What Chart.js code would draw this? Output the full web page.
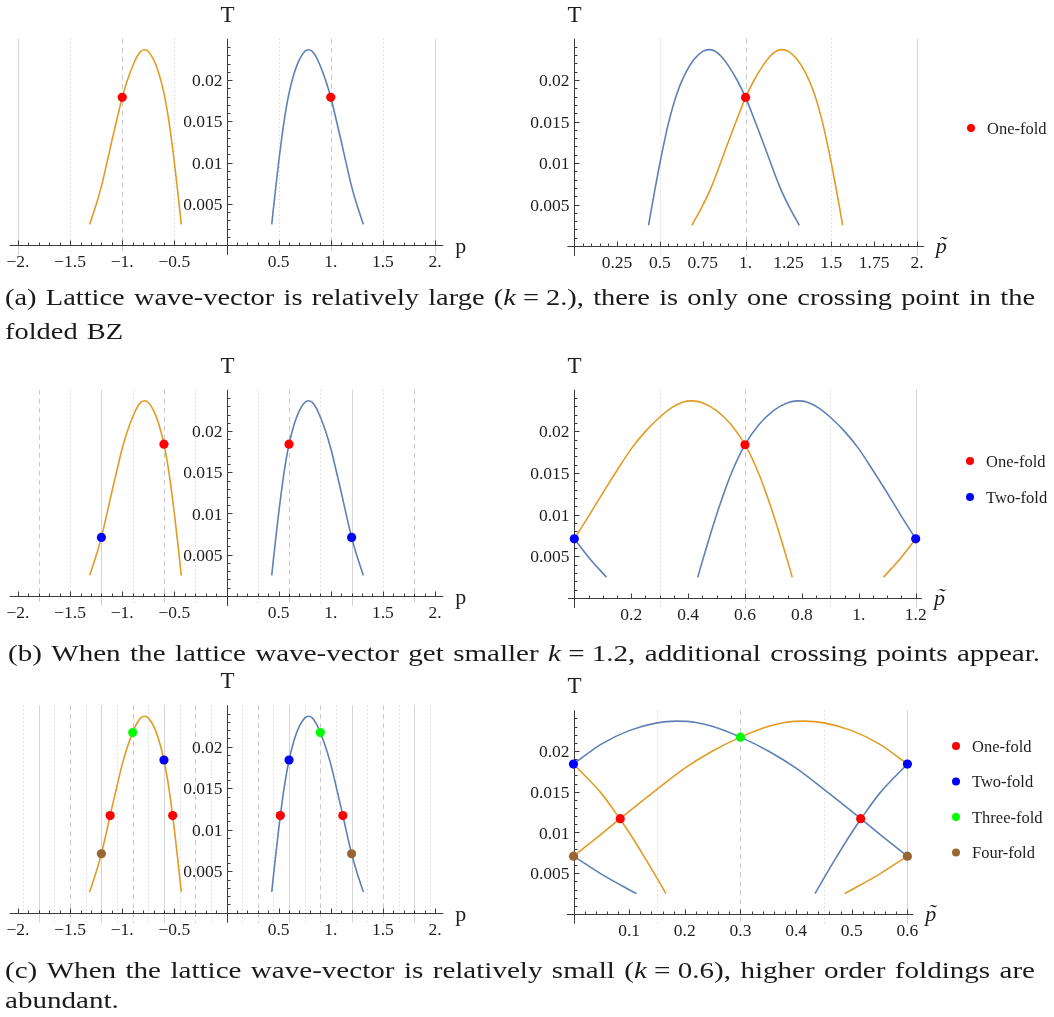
<!DOCTYPE html>
<html>
<head>
<meta charset="utf-8">
<script src="https://cdn.jsdelivr.net/npm/chart.js"></script>
<style>
body{margin:0;background:#fff;width:1054px;height:1017px;position:relative;overflow:hidden;}
canvas{position:absolute;}
#captions{left:0;top:0;pointer-events:none;}
</style>
</head>
<body>
<canvas id="aL"></canvas><canvas id="aR"></canvas>
<canvas id="bL"></canvas><canvas id="bR"></canvas>
<canvas id="cL"></canvas><canvas id="cR"></canvas>
<canvas id="captions" width="1054" height="1017"></canvas>

<script>
// T(p) branch around +0.78 (blue) and its partner around -0.78 (orange)
const pBlue = [0.434, 0.45, 0.47, 0.50, 0.52, 0.55, 0.60, 0.65, 0.70, 0.75, 0.785, 0.82, 0.86, 0.90, 0.95, 1.00, 1.05, 1.10, 1.15, 1.20, 1.25, 1.313];
const tBlue = [0.0025, 0.0044, 0.0067, 0.0100, 0.0120, 0.0148, 0.0184, 0.02085, 0.0225, 0.02345, 0.02366, 0.0235, 0.0228, 0.0217, 0.0200, 0.0179, 0.0153, 0.0126, 0.0098, 0.0071, 0.0049, 0.0025];
const pOrange = [-1.313, -1.25, -1.20, -1.15, -1.10, -1.05, -1.00, -0.95, -0.90, -0.86, -0.82, -0.785, -0.75, -0.70, -0.65, -0.60, -0.55, -0.52, -0.50, -0.47, -0.45, -0.434];
const tOrange = [0.0025, 0.0049, 0.0071, 0.0098, 0.0126, 0.0153, 0.0179, 0.0200, 0.0217, 0.0228, 0.0235, 0.02366, 0.02345, 0.0225, 0.02085, 0.0184, 0.0148, 0.0120, 0.0100, 0.0067, 0.0044, 0.0025];

const kA = 2, kB = 1.2, kC = 0.6;

// crossing points, one inner list per fold order (one-, two-, three-, four-fold)
const crossAP = [[-1, 1]];
const crossAT = [[0.0179, 0.0179]];
const crossAFoldP = [[1]];
const crossAFoldT = [[0.0179]];
const crossBP = [[-0.6, 0.6], [-1.2, 1.2]];
const crossBT = [[0.0184, 0.0184], [0.0071, 0.0071]];
const crossBFoldP = [[0.6], [0, 1.2]];
const crossBFoldT = [[0.0184], [0.0071, 0.0071]];
const crossCP = [[-1.116, -0.516, 0.516, 1.116], [-0.6, 0.6], [-0.9, 0.9], [-1.2, 1.2]];
const crossCT = [[0.0117, 0.0117, 0.0117, 0.0117], [0.0184, 0.0184], [0.0217, 0.0217], [0.0071, 0.0071]];
const crossCFoldP = [[0.084, 0.516], [0, 0.6], [0.3], [0, 0.6]];
const crossCFoldT = [[0.0117, 0.0117], [0.0184, 0.0184], [0.0217], [0.0071, 0.0071]];

const foldNames = ['One-fold', 'Two-fold', 'Three-fold', 'Four-fold'];
const foldColors = ['#ff0000', '#0000ff', '#00ff00', '#996633'];

// tick labels
const pTickVals = [-2, -1.5, -1, -0.5, 0.5, 1, 1.5, 2];
const pTickLabels = ['\u22122.', '\u22121.5', '\u22121.', '\u22120.5', '0.5', '1.', '1.5', '2.'];
const ptATickVals = [0.25, 0.5, 0.75, 1, 1.25, 1.5, 1.75, 2];
const ptATickLabels = ['0.25', '0.5', '0.75', '1.', '1.25', '1.5', '1.75', '2.'];
const ptBTickVals = [0.2, 0.4, 0.6, 0.8, 1, 1.2];
const ptBTickLabels = ['0.2', '0.4', '0.6', '0.8', '1.', '1.2'];
const ptCTickVals = [0.1, 0.2, 0.3, 0.4, 0.5, 0.6];
const ptCTickLabels = ['0.1', '0.2', '0.3', '0.4', '0.5', '0.6'];
const tTickVals = [0.005, 0.01, 0.015, 0.02];
const tTickLabels = ['0.005', '0.01', '0.015', '0.02'];

// caption lines; {..} is set in italic, the last field says whether the line is justified
const captionLines = [
	['(a) Lattice wave-vector is relatively large ({k}\u00a0=\u00a02.), there is only one crossing point in the', 5, 305, 1030, true],
	['folded BZ', 5, 339, 0, false],
	['(b) When the lattice wave-vector get smaller {k}\u00a0=\u00a01.2, additional crossing points appear.', 8, 661, 1032, true],
	['(c) When the lattice wave-vector is relatively small ({k}\u00a0=\u00a00.6), higher order foldings are', 5, 978, 1030, true],
	['abundant.', 5, 1008, 0, false]
];

const BLUE = '#5e81b5', ORANGE = '#e19c24';
const FONT = '"Liberation Serif", "Times New Roman", serif';

function toXY(ps, ts){ return ps.map((p, i) => ({x: p, y: ts[i]})); }

// cut a branch into pieces of width k and shift each piece back into [0, k]
function fold(ps, ts, k){
	const out = [];
	const nLo = Math.floor(ps[0] / k), nHi = Math.floor(ps[ps.length - 1] / k);
	for(let n = nLo; n <= nHi; n++){
		const seg = [];
		ps.forEach((p, i) => {
			if(p >= n * k - 1e-9 && p <= (n + 1) * k + 1e-9) seg.push({x: p - n * k, y: ts[i]});
		});
		if(seg.length > 1) out.push(seg);
	}
	return out;
}

function line(ctx, x1, y1, x2, y2){ ctx.beginPath(); ctx.moveTo(x1, y1); ctx.lineTo(x2, y2); ctx.stroke(); }

// Mathematica-like axes through the origin, zone lines, legend
function makeAxes(o){
	return {
		id: 'mathAxes',
		beforeDatasetsDraw(chart){
			const ctx = chart.ctx, ca = chart.chartArea;
			const xs = chart.scales.x, ys = chart.scales.y;
			const X = v => xs.getPixelForValue(v), Y = v => ys.getPixelForValue(v);
			ctx.save();
			ctx.lineWidth = 1;
			const q = o.k / 4;
			for(let m = Math.ceil(xs.min / q - 1e-9); m <= Math.floor(xs.max / q + 1e-9); m++){
				if(m === 0) continue;
				const px = Math.round(X(m * q)) + 0.5;
				if(m % 4 === 0){ ctx.strokeStyle = '#d4d4d4'; ctx.setLineDash([]); }
				else if(m % 2 === 0){ ctx.strokeStyle = '#c8c8c8'; ctx.setLineDash([5, 4]); }
				else { ctx.strokeStyle = '#c8c8c8'; ctx.setLineDash([1, 3]); }
				line(ctx, px, ca.top, px, ca.bottom);
			}
			ctx.setLineDash([]);
			const x0 = Math.round(X(0)) + 0.5, y0 = Math.round(Y(0)) + 0.5;
			ctx.strokeStyle = '#3c3c3c';
			line(ctx, ca.left, y0, ca.right, y0);
			line(ctx, x0, ca.top, x0, ca.bottom);
			for(let n = Math.ceil(xs.min / o.xMinor - 1e-9); n <= Math.floor(xs.max / o.xMinor + 1e-9); n++){
				if(n === 0) continue;
				const px = Math.round(X(n * o.xMinor)) + 0.5;
				line(ctx, px, y0, px, y0 - (n % o.xRatio === 0 ? 5 : 3));
			}
			for(let n = 1; n * 0.001 < ys.max - 1e-9; n++){
				const py = Math.round(Y(n * 0.001)) + 0.5;
				line(ctx, x0, py, x0 + (n % 5 === 0 ? 5 : 3), py);
			}
			ctx.fillStyle = '#1e1e1e';
			ctx.font = '17.5px ' + FONT;
			ctx.textAlign = 'center';
			ctx.textBaseline = 'alphabetic';
			o.xTicks.forEach((v, i) => ctx.fillText(o.xLabels[i], X(v), y0 + 21));
			ctx.textAlign = 'right';
			tTickVals.forEach((v, i) => ctx.fillText(tTickLabels[i], x0 - 5, Y(v) + 6));
			ctx.font = '23px ' + FONT;
			ctx.textAlign = 'center';
			ctx.fillText('T', x0, ca.top - 17);
			ctx.textAlign = 'left';
			if(o.folded){
				ctx.font = 'italic 22px ' + FONT;
				const tx = ca.right + 12;
				ctx.fillText('p', tx, y0 + 6);
				const w = ctx.measureText('p').width;
				ctx.textAlign = 'center';
				ctx.fillText('\u02DC', tx + w * 0.6, y0 + 4);
			} else {
				ctx.font = '22px ' + FONT;
				ctx.fillText('p', ca.right + 12, y0 + 7);
			}
			ctx.restore();
		},
		afterDatasetsDraw(chart){
			if(!o.items) return;
			const ctx = chart.ctx;
			ctx.save();
			ctx.font = '16.5px ' + FONT;
			ctx.textAlign = 'left';
			ctx.textBaseline = 'alphabetic';
			o.items.forEach(it => {
				ctx.fillStyle = it.color;
				ctx.beginPath(); ctx.arc(it.x, it.y, 4, 0, Math.PI * 2); ctx.fill();
				ctx.fillStyle = '#1e1e1e';
				ctx.fillText(it.text, it.x + 16, it.y + 5.5);
			});
			ctx.restore();
		}
	};
}

function buildPanel(id, g, segs, crossP, crossT, axis){
	const cv = document.getElementById(id);
	cv.style.left = g.left + 'px';
	cv.style.top = g.top + 'px';
	cv.width = g.w;
	cv.height = g.h;
	const pad = {
		left: g.x0 + g.sx * g.xmin - g.left,
		right: g.left + g.w - (g.x0 + g.sx * g.xmax),
		top: g.y0 - g.sy * g.ymax - g.top,
		bottom: g.top + g.h - (g.y0 - g.sy * g.ymin)
	};
	const datasets = [];
	crossP.forEach((ps, i) => {
		datasets.push({data: toXY(ps, crossT[i]), showLine: false, pointRadius: 4.6, pointBackgroundColor: foldColors[i], pointBorderWidth: 0, order: 0, clip: false});
	});
	segs.forEach(s => {
		datasets.push({data: s.data, showLine: true, borderColor: s.color, borderWidth: 1.6, pointRadius: 0, cubicInterpolationMode: 'monotone', fill: false, order: 1, clip: false});
	});
	if(axis.legend){
		axis.items = crossP.map((ps, i) => ({color: foldColors[i], text: foldNames[i], x: axis.legend.x - g.left, y: axis.legend.y - g.top + i * axis.legend.dy}));
	}
	new Chart(cv.getContext('2d'), {
		type: 'line',
		data: {datasets: datasets},
		options: {
			responsive: false,
			animation: false,
			events: [],
			layout: {padding: pad},
			scales: {
				x: {type: 'linear', min: g.xmin, max: g.xmax, display: false, bounds: 'data'},
				y: {type: 'linear', min: g.ymin, max: g.ymax, display: false, bounds: 'data'}
			},
			plugins: {legend: {display: false}, tooltip: {enabled: false}}
		},
		plugins: [makeAxes(axis)]
	});
}

const unfolded = [{data: toXY(pOrange, tOrange), color: ORANGE}, {data: toXY(pBlue, tBlue), color: BLUE}];
function foldedSegs(k){
	return fold(pOrange, tOrange, k).map(d => ({data: d, color: ORANGE}))
		.concat(fold(pBlue, tBlue, k).map(d => ({data: d, color: BLUE})));
}

const leftAxis = k => ({k: k, xMinor: 0.1, xRatio: 5, xTicks: pTickVals, xLabels: pTickLabels, folded: false});

buildPanel('aL', {left: 0, top: 0, w: 480, h: 280, x0: 226.5, y0: 245, sx: 104.25, sy: 8250, xmin: -2.08, xmax: 2.08, ymin: -0.0012, ymax: 0.025},
	unfolded, crossAP, crossAT, leftAxis(kA));
buildPanel('aR', {left: 500, top: 0, w: 554, h: 280, x0: 574.2, y0: 246, sx: 171.4, sy: 8300, xmin: -0.04, xmax: 2.04, ymin: -0.0012, ymax: 0.025},
	foldedSegs(kA), crossAFoldP, crossAFoldT,
	{k: kA, xMinor: 0.05, xRatio: 5, xTicks: ptATickVals, xLabels: ptATickLabels, folded: true, legend: {x: 971, y: 128, dy: 36}});

buildPanel('bL', {left: 0, top: 345, w: 480, h: 285, x0: 226.5, y0: 596, sx: 104.25, sy: 8250, xmin: -2.08, xmax: 2.08, ymin: -0.0012, ymax: 0.025},
	unfolded, crossBP, crossBT, leftAxis(kB));
buildPanel('bR', {left: 500, top: 345, w: 554, h: 285, x0: 574.3, y0: 598, sx: 284.5, sy: 8330, xmin: -0.022, xmax: 1.222, ymin: -0.0012, ymax: 0.025},
	foldedSegs(kB), crossBFoldP, crossBFoldT,
	{k: kB, xMinor: 0.05, xRatio: 4, xTicks: ptBTickVals, xLabels: ptBTickLabels, folded: true, legend: {x: 970, y: 461, dy: 36}});

buildPanel('cL', {left: 0, top: 668, w: 480, h: 275, x0: 226.5, y0: 912.7, sx: 104.25, sy: 8300, xmin: -2.08, xmax: 2.08, ymin: -0.0012, ymax: 0.025},
	unfolded, crossCP, crossCT, leftAxis(kC));
buildPanel('cR', {left: 500, top: 668, w: 554, h: 275, x0: 573.5, y0: 914, sx: 556.5, sy: 8150, xmin: -0.0117, xmax: 0.6106, ymin: -0.0012, ymax: 0.025},
	foldedSegs(kC), crossCFoldP, crossCFoldT,
	{k: kC, xMinor: 0.02, xRatio: 5, xTicks: ptCTickVals, xLabels: ptCTickLabels, folded: true, legend: {x: 956, y: 746, dy: 35.5}});

// captions drawn on their own canvas: widen the face a little, then justify word by word
(function(){
	const ctx = document.getElementById('captions').getContext('2d');
	const roman = '23px ' + FONT, italic = 'italic 23px ' + FONT;
	ctx.fillStyle = '#1a1a1a';
	ctx.textBaseline = 'alphabetic';
	const pieces = w => w.split(/\{(.*?)\}/).map((t, i) => ({t: t, it: i % 2 === 1})).filter(p => p.t);
	const wordWidth = w => pieces(w).reduce((s, p) => { ctx.font = p.it ? italic : roman; return s + ctx.measureText(p.t).width; }, 0);
	ctx.font = roman;
	const space = ctx.measureText(' ').width;
	let stretch = 1;
	captionLines.forEach(([text, x, base, target, justify]) => {
		const words = text.split(' ');
		const widths = words.map(wordWidth);
		const sum = widths.reduce((a, b) => a + b, 0);
		let gap = space * 1.3;
		if(justify){
			stretch = Math.max(1, target / (sum + gap * (words.length - 1)));
			gap = (target / stretch - sum) / (words.length - 1);
		}
		ctx.save();
		ctx.translate(x, base);
		ctx.scale(stretch, 1);
		let cx = 0;
		words.forEach(w => {
			pieces(w).forEach(p => {
				ctx.font = p.it ? italic : roman;
				ctx.fillText(p.t, cx, 0);
				cx += ctx.measureText(p.t).width;
			});
			cx += gap;
		});
		ctx.restore();
	});
})();
</script>
</body>
</html>
